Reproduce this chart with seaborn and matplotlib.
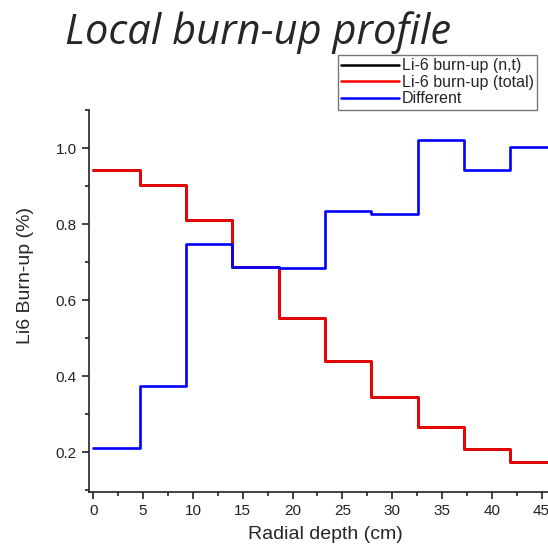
import numpy as np
import pandas as pd
import seaborn as sns
import matplotlib.pyplot as plt
from matplotlib.ticker import MultipleLocator

# radial zone edges (cm) and burn-up per zone (%)
edges = [0, 4.65, 9.3, 13.95, 18.6, 23.25, 27.9, 32.55, 37.2, 41.85, 46.5]
burnup_nt = [0.942, 0.903, 0.811, 0.687, 0.554, 0.439, 0.344, 0.266, 0.209, 0.174]
burnup_total = [0.942, 0.903, 0.811, 0.687, 0.554, 0.439, 0.344, 0.266, 0.209, 0.174]
different = [0.212, 0.374, 0.747, 0.688, 0.683, 0.833, 0.826, 1.021, 0.942, 1.003]

sns.set_theme(style='ticks')
plt.rcParams['font.family'] = ['Liberation Sans', 'DejaVu Sans']


def step_frame(vals):
    return pd.DataFrame({'x': edges, 'y': list(vals) + [vals[-1]]})


fig = plt.figure(figsize=(5.48, 5.50), dpi=100)
ax = fig.add_axes([0.1615, 0.1055, 0.8385, 0.6945])

series = [('Li-6 burn-up (n,t)', burnup_nt, 'black'),
          ('Li-6 burn-up (total)', burnup_total, 'red'),
          ('Different', different, 'blue')]
for name, vals, col in series:
    sns.lineplot(data=step_frame(vals), x='x', y='y', ax=ax, color=col,
                 linewidth=1.9, drawstyle='steps-post', label=name,
                 estimator=None, sort=False)

ax.set_xlim(-0.48, 45.65)
ax.set_ylim(0.095, 1.1)
ax.xaxis.set_major_locator(MultipleLocator(5))
ax.xaxis.set_minor_locator(MultipleLocator(2.5))
ax.yaxis.set_major_locator(MultipleLocator(0.2))
ax.yaxis.set_minor_locator(MultipleLocator(0.1))
ax.tick_params(which='major', direction='out', length=5, width=1.2,
               labelsize=11, colors='#222222')
ax.tick_params(which='minor', direction='out', length=3, width=1.2)
ax.set_yticks([0.2, 0.4, 0.6, 0.8, 1.0])
ax.set_yticklabels(['0.2', '0.4', '0.6', '0.8', '1.0'])
for s in ['left', 'bottom']:
    ax.spines[s].set_linewidth(1.2)
    ax.spines[s].set_color('#222222')
sns.despine(ax=ax)

ax.set_xlabel('Radial depth (cm)', fontsize=14)
ax.set_ylabel('Li6 Burn-up (%)', fontsize=14)
ax.xaxis.set_label_coords(0.515, -0.09)
ax.yaxis.set_label_coords(-0.118, 0.568)

leg = ax.legend(loc='upper left', bbox_to_anchor=(338 / 548, 1 - 55 / 550),
                bbox_transform=fig.transFigure, fontsize=11.5, frameon=True,
                fancybox=False, handlelength=3.6, handletextpad=0.2,
                labelspacing=0.1, borderpad=0.2, borderaxespad=0)
leg.get_frame().set_edgecolor('#555555')
leg.get_frame().set_linewidth(1.0)
for ln in leg.get_lines():
    ln.set_linewidth(1.8)

fig.text(65 / 548, 1 - 33 / 550, 'Local burn-up profile', fontsize=30,
         style='italic', family=['Open Sans', 'DejaVu Sans'],
         ha='left', va='center')

fig.savefig('out.png', dpi=100)
